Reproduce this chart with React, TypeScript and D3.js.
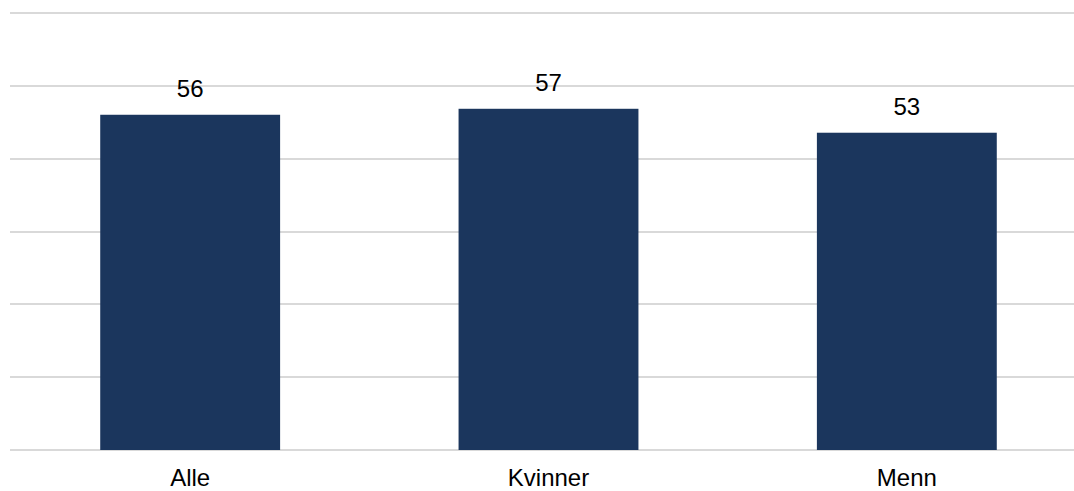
import React from "react";
import * as d3 from "d3";

// Share of respondents, by group
const categories: string[] = ["Alle", "Kvinner", "Menn"];
const values: number[] = [56, 57, 53];

const WIDTH = 1074;
const HEIGHT = 491;
const Y_MAX = 73;
const GRID_COUNT = 6;

export default function App() {
  const x = d3
    .scaleBand<string>()
    .domain(categories)
    .range([11, 1086])
    .paddingInner(0.498)
    .paddingOuter(0.249);

  const y = d3.scaleLinear().domain([0, Y_MAX]).range([450, 13]);

  const gridValues = d3.range(GRID_COUNT + 1).map((i) => (i * Y_MAX) / GRID_COUNT);

  return (
    <svg
      width={WIDTH}
      height={HEIGHT}
      style={{ position: "absolute", left: 0, top: 0, background: "#fff" }}
      fontFamily="'Liberation Sans', Arial, sans-serif"
    >
      <g>
        {gridValues.map((v) => (
          <line
            key={v}
            x1={10}
            x2={1086}
            y1={Math.round(y(v))}
            y2={Math.round(y(v))}
            stroke="#d9d9d9"
            strokeWidth={2}
          />
        ))}
      </g>
      <g>
        {categories.map((c, i) => (
          <rect
            key={c}
            x={x(c)}
            y={y(values[i])}
            width={x.bandwidth()}
            height={y(0) - y(values[i])}
            fill="#1b365d"
          />
        ))}
      </g>
      <g fontSize={24} fill="#000" textAnchor="middle">
        {categories.map((c, i) => (
          <text key={c} x={(x(c) as number) + x.bandwidth() / 2} y={y(values[i]) - 18}>
            {values[i]}
          </text>
        ))}
      </g>
      <g fontSize={24} fill="#000" textAnchor="middle">
        {categories.map((c) => (
          <text key={c} x={(x(c) as number) + x.bandwidth() / 2} y={486}>
            {c}
          </text>
        ))}
      </g>
    </svg>
  );
}
